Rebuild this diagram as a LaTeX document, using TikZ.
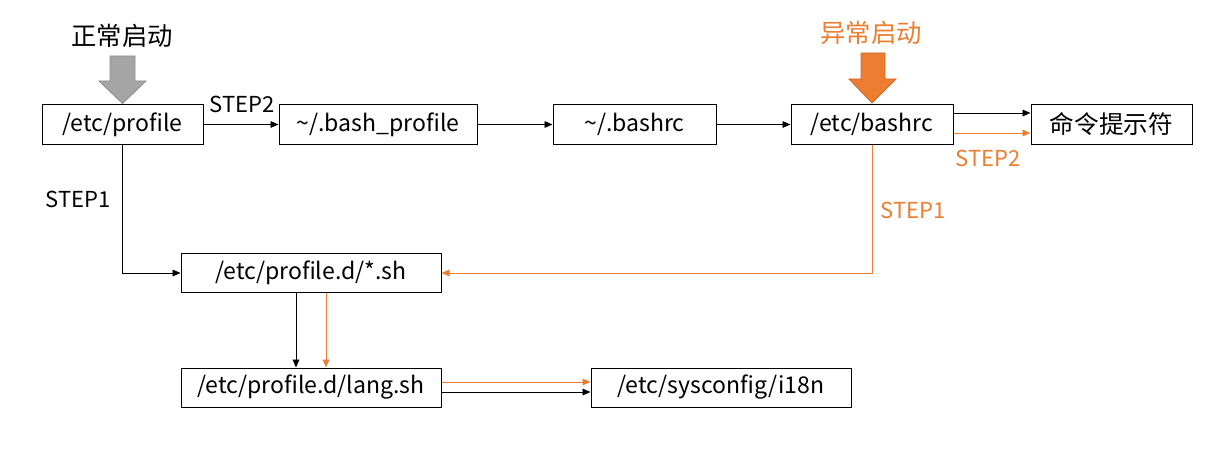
\documentclass[tikz,border=0pt]{standalone}
\usepackage{fontspec}
\setmainfont{Noto Sans CJK SC}
\usetikzlibrary{arrows.meta,calc}
\definecolor{orng}{HTML}{ED7D31}
\definecolor{gry}{HTML}{A5A5A5}
\begin{document}
\begin{tikzpicture}[x=0.75pt,y=-0.75pt,
  box/.style={draw=black,line width=0.75pt,minimum height=29.25pt,inner sep=0pt,font=\fontsize{17.3}{19}\selectfont},
  conn/.style={line width=0.7pt,-{Triangle[length=6pt,width=5pt]}},
  oconn/.style={conn,draw=orng,color=orng},
  lbl/.style={font=\fontsize{16.5}{18}\selectfont},
  big/.style={font=\fontsize{19}{21}\selectfont}]
\useasboundingbox (0,0) rectangle (1228,460);
\node[box,minimum width=120.75pt] (prof) at (122.5,124.5) {/etc/profile};
\node[box,minimum width=148.5pt] (bprof) at (378,124.5) {\char"007E/.bash\_profile};
\node[box,minimum width=122.25pt] (brc) at (634.5,124.5) {\char"007E/.bashrc};
\node[box,minimum width=121.5pt] (ebrc) at (872,124.5) {/etc/bashrc};
\node[box,minimum width=120.75pt,font=\fontsize{18.5}{20}\selectfont] (cmd) at (1111.5,124.5) {命令提示符};
\node[box,minimum width=195pt] (star) at (311,273) {/etc/profile.d/*.sh};
\node[box,minimum width=195pt] (lang) at (311,387.5) {/etc/profile.d/lang.sh};
\node[box,minimum width=195pt] (i18n) at (721,387.5) {/etc/sysconfig/i18n};
% top labels
\node[big] (normal) at (122,36) {正常启动};
\node[big,text=orng] (abn) at (871,33) {异常启动};
% block arrows
\draw[draw=gry!85!black,fill=gry,line width=0.6pt] (110,56) -- (135,56) -- (135,81) -- (146,81) -- (122.5,103.5) -- (99,81) -- (110,81) -- cycle;
\draw[draw=orng!85!black,fill=orng,line width=0.6pt] (861,53) -- (885,53) -- (885,79) -- (896,79) -- (872,103) -- (849,79) -- (861,79) -- cycle;
% horizontal
\draw[conn] (prof.east) -- (bprof.west);
\node[lbl] at (242,104) {STEP2};
\draw[conn] (bprof.east) -- (brc.west);
\draw[conn] (brc.east) -- (ebrc.west);
\draw[conn] ($(ebrc.east)+(0,-11.5)$) -- ($(cmd.west)+(0,-11.5)$);
\draw[oconn] ($(ebrc.east)+(0,8.5)$) -- ($(cmd.west)+(0,8.5)$);
\node[lbl,text=orng] at (988,158) {STEP2};
% step1
\draw[conn] (prof.south) |- (star.west);
\node[lbl] at (78,199) {STEP1};
\draw[oconn] (ebrc.south) |- (star.east);
\node[lbl,text=orng] at (913,210) {STEP1};
% down
\draw[conn] ($(star.south)+(-15,0)$) -- ($(lang.north)+(-15,0)$);
\draw[oconn] ($(star.south)+(15,0)$) -- ($(lang.north)+(15,0)$);
% lang -> i18n
\draw[oconn] ($(lang.east)+(0,-5.5)$) -- ($(i18n.west)+(0,-5.5)$);
\draw[conn] ($(lang.east)+(0,4.5)$) -- ($(i18n.west)+(0,4.5)$);
\end{tikzpicture}
\end{document}
